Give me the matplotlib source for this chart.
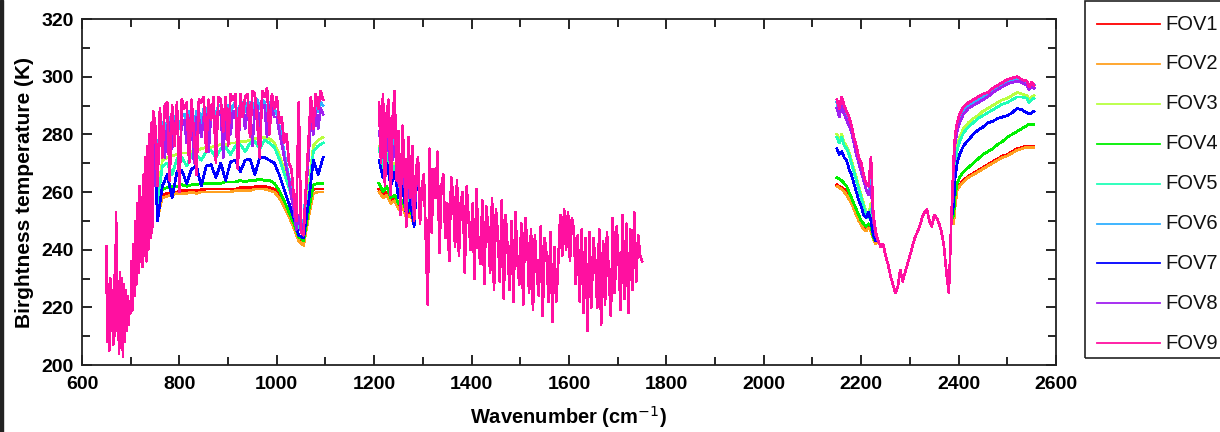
"""
CrIS brightness temperature spectra for the nine FOVs
- values read off the reference picture, band by band
"""

import numpy as np
import matplotlib.pyplot as plt
from matplotlib.patches import Rectangle
from matplotlib.lines import Line2D

plt.rcParams["font.family"] = ["Liberation Sans", "DejaVu Sans"]

W, H = 1220, 432

# -----------------------------
# Series names / colours
# -----------------------------
fov_names = ["FOV1", "FOV2", "FOV3", "FOV4", "FOV5", "FOV6", "FOV7", "FOV8", "FOV9"]
fov_colors = ["#ff0000", "#ffa020", "#b8ff40", "#00f000", "#20ffb8",
              "#30b0ff", "#0000ff", "#a020f0", "#ff10a0"]

# -----------------------------
# Longwave band (cm-1, K)
# -----------------------------
# CO2 band, the same for every FOV
co2_wn = list(range(650, 748, 2))
co2_tb = [241, 208, 228, 205, 230, 212, 226, 207, 231, 210,
          253, 212, 229, 204, 232, 206, 230, 203, 228, 208,
          226, 212, 224, 214, 222,
          218, 236, 219, 242, 224, 250, 228, 256, 232, 262,
          236, 258, 234, 266, 238, 272, 236, 276, 240, 280,
          244, 284, 246, 288]

# window region, fine grid (FOV6, FOV8, FOV9)
win_wn_fine = list(range(750, 1100, 5))
win_fov6 = [262, 272, 283, 284, 279, 285, 286, 281, 286, 287,
            282, 287, 287, 283, 288, 288, 282, 288, 288, 284,
            289, 289, 284, 289, 289, 286, 290, 290, 285, 290,
            290, 287, 290, 291, 286, 291, 291, 288, 291, 291,
            287, 291, 292, 289, 292, 291, 288, 291, 291, 289,
            287, 283, 279, 274, 269, 265, 259, 255, 248, 251,
            246, 249, 262, 275, 287, 284, 290, 288, 291, 290]
win_fov8 = [262, 270, 281, 282, 272, 283, 284, 275, 284, 285,
            271, 285, 285, 277, 285, 286, 270, 286, 286, 279,
            286, 287, 274, 287, 287, 281, 287, 288, 272, 288,
            288, 280, 288, 288, 273, 288, 289, 282, 289, 289,
            276, 289, 290, 283, 290, 290, 279, 290, 289, 286,
            286, 281, 277, 272, 268, 264, 258, 254, 247, 252,
            246, 248, 260, 272, 285, 280, 288, 282, 289, 287]
win_fov9 = [284, 262, 289, 272, 290, 291, 264, 290, 276, 291,
            260, 292, 289, 291, 270, 292, 280, 266, 292, 291,
            293, 274, 292, 285, 293, 270, 293, 292, 281, 293,
            276, 294, 292, 294, 268, 294, 286, 293, 294, 279,
            295, 294, 284, 272, 295, 293, 296, 280, 294, 289,
            293, 284, 286, 277, 280, 270, 268, 258, 250, 291,
            246, 245, 262, 277, 293, 282, 294, 289, 295, 292]

# window region, coarse grid (smoother FOVs)
win_wn_coarse = list(range(755, 1100, 10))
win_fov1 = [252, 259, 259.5, 260, 260, 260.5, 260.5, 260.5, 260.5, 260.8,
            261, 261, 261, 261, 261, 261, 261, 261.5, 261.5, 261.5,
            261.8, 262, 262, 261.5, 261, 259, 256, 252.5, 248.5, 244,
            242, 252, 261, 261, 261]
win_fov2 = [251, 258, 258.5, 259, 259.5, 259.5, 259.5, 260, 259.5, 260,
            260, 260, 260, 260, 260, 260, 260.5, 260.5, 260.5, 260.5,
            261, 261, 261, 260.5, 260, 258, 255, 251.5, 247.5, 243,
            241.5, 251, 259.5, 260, 260]
win_fov3 = [258, 271, 272, 272.5, 273, 273.5, 273.5, 274, 274.5, 275,
            275.5, 275.5, 276, 276.5, 276.5, 277, 277, 277.5, 277.5, 278,
            278.5, 279, 279, 278.5, 277, 273, 268, 263, 257, 249,
            247, 260, 276, 278, 279]
win_fov4 = [253, 261, 261.5, 262, 262, 262.5, 262, 262.5, 262.5, 263,
            263, 263, 263, 263, 263.5, 263.5, 263.5, 264, 263.5, 264,
            264, 264.5, 264, 264, 263, 260.5, 257, 253, 249, 244.5,
            243, 253, 262.5, 263, 263]
win_fov5 = [256, 269, 270, 266, 271.5, 272, 269, 273, 273, 271,
            274, 274.5, 272, 275, 275.5, 273, 276, 276.5, 274, 277,
            277.5, 275, 278, 277, 275.5, 271.5, 266.5, 261.5, 255.5, 248,
            246, 258, 274, 276, 277]
win_fov7 = [250, 262, 266, 258, 267, 267.5, 263, 268, 269, 262,
            269, 269.5, 265, 270, 264, 270.5, 271, 267, 271, 271.5,
            266, 272, 272, 271, 270, 266, 261, 256, 251, 245,
            244, 256, 271, 266, 272]

# -----------------------------
# Midwave (water vapour) band
# -----------------------------
h2o_wn = list(range(1210, 1754, 4))
h2o_tb = [291, 270, 294, 262, 288, 292, 259, 286, 295, 264,
          281, 252, 283, 270, 248, 279, 258, 276, 250, 268,
          272, 249, 262, 266, 244, 221, 275, 246, 268, 258,
          274, 239, 262, 266, 244, 256, 236, 265, 259, 241,
          264, 238, 257, 260, 232, 262, 250, 240, 256, 230,
          261, 242, 235, 257, 228, 255, 248, 232, 258, 226,
          254, 245, 229, 257, 223, 252, 240, 226, 250, 222,
          253, 236, 228, 249, 221, 251, 243, 225, 247, 219,
          245, 232, 224, 248, 217, 244, 238, 222, 246, 215,
          241, 222, 236, 252, 238, 254, 240, 253, 236, 251,
          247, 228, 245, 222, 247, 218, 244, 212, 246, 220,
          244, 236, 220, 247, 214, 243, 221, 246, 230, 217,
          251, 225, 248, 236, 219, 252, 223, 249, 218, 247,
          226, 253, 229, 245, 238, 236]

# start of the band, where the FOVs still differ (FOV1..FOV8)
h2o_head_wn = list(range(1210, 1290, 8))
h2o_head = [
    [261, 259, 260, 257, 258, 255, 256, 252, 253, 250],
    [260, 258, 259, 256, 257, 254, 255, 251, 252, 249],
    [276, 270, 274, 266, 270, 262, 265, 256, 260, 252],
    [263, 260, 262, 258, 259, 256, 257, 253, 254, 250],
    [275, 268, 273, 265, 269, 261, 264, 255, 259, 251],
    [285, 276, 283, 272, 278, 265, 271, 258, 265, 252],
    [271, 265, 270, 262, 267, 258, 262, 252, 257, 248],
    [281, 272, 280, 268, 276, 263, 270, 256, 264, 251],
]

# -----------------------------
# Shortwave band
# -----------------------------
sw_head_wn = list(range(2150, 2235, 5))
sw_head = [
    [262.5, 262, 261.5, 261, 260, 258.5, 257, 255, 253, 251, 249.5, 248, 247, 248, 247, 244, 242.5],
    [262, 261.5, 261, 260, 259, 257.5, 256, 254, 252, 250, 248.5, 247, 246.5, 247.5, 246.5, 243.5, 242],
    [280, 278, 280, 277, 276, 274, 271, 268, 265, 262, 259, 256, 253, 252, 256, 247, 244],
    [265, 264.5, 264, 263, 262, 260, 258, 256, 254, 252, 250, 249, 248, 249, 248, 244, 243],
    [279, 277, 279, 276, 275, 273, 270, 267, 264, 261, 258, 255, 252, 251, 254, 246, 244],
    [291, 288, 291, 289, 287, 284, 281, 278, 274, 271, 268, 264, 261, 259, 264, 250, 245],
    [275, 273, 274, 272, 271, 268, 266, 263, 260, 257, 255, 252, 251, 253, 250, 245, 243],
    [289, 286, 290, 287, 285, 283, 281, 277, 273, 270, 267, 264, 261, 259, 262, 250, 245],
    [292, 289, 293, 290, 288, 286, 283, 279, 276, 272, 270, 266, 263, 262, 272, 252, 246],
]

# N2O / CO2 part, the same for every FOV
sw_mid_wn = list(range(2235, 2390, 5))
sw_mid = [243, 241, 242, 238, 235, 231, 228, 225, 227, 233,
          229, 232, 235, 238, 241, 244, 246, 248, 251, 253,
          254, 250, 248, 252, 251, 249, 246, 241, 232, 225,
          250]

sw_tail_wn = [2390, 2393, 2397, 2402, 2410, 2420, 2430, 2440, 2450, 2460, 2470,
              2480, 2490, 2500, 2510, 2520, 2530, 2540, 2545, 2550, 2555]
sw_tail = [
    [250, 256, 261, 262.5, 264, 265.5, 266.5, 267.5, 268.5, 269.5, 270.5, 271.5, 272.5, 273, 274, 275, 275.5, 276, 276, 276, 276],
    [249, 255, 260.5, 262, 263.5, 265, 266, 267, 268, 269, 270, 271, 272, 272.5, 273.5, 274.5, 275, 275.5, 275.5, 275.5, 275.5],
    [262, 272, 276, 279, 282, 284, 285.5, 286.5, 288, 289, 290, 291, 292, 292.5, 293.5, 294.5, 294, 293.5, 292, 293, 293.5],
    [252, 259, 263, 265, 267, 268.5, 270, 271.5, 273, 274, 275, 276.5, 277.5, 279, 280, 281, 282, 283, 283.5, 283.5, 283.5],
    [261, 270, 274.5, 277.5, 280.5, 282.5, 284, 285.5, 286.5, 287.5, 288.5, 289.5, 290.5, 291, 292, 293, 293, 292.5, 291, 292, 292.5],
    [270, 279, 283, 286, 288.5, 290, 291, 292, 293, 294, 295.5, 296.5, 297.5, 298.5, 299, 299.5, 298.5, 298, 296, 297.5, 297],
    [256, 265, 270, 273, 276, 278, 280, 281.5, 282.5, 284, 284.5, 285.5, 286, 286.5, 287.5, 289, 288.5, 287.5, 287, 287.5, 288],
    [268, 277, 281, 284, 287, 289, 290, 291, 292, 293, 294.5, 295.5, 296.5, 297.5, 298, 298.5, 298, 297, 295.5, 296.5, 296],
    [272, 280, 284, 287, 289.5, 291, 292, 293, 294, 294.5, 296, 297, 298, 299, 299.5, 300, 299, 298.5, 296.5, 298, 297],
]

# -----------------------------
# Assemble each FOV (NaN between bands)
# -----------------------------
win_data = {0: (win_wn_coarse, win_fov1), 1: (win_wn_coarse, win_fov2),
            2: (win_wn_coarse, win_fov3), 3: (win_wn_coarse, win_fov4),
            4: (win_wn_coarse, win_fov5), 5: (win_wn_fine, win_fov6),
            6: (win_wn_coarse, win_fov7), 7: (win_wn_fine, win_fov8),
            8: (win_wn_fine, win_fov9)}


def fov_spectrum(i):
    wn_w, tb_w = win_data[i]
    if i < 8:
        keep = [k for k, w in enumerate(h2o_wn) if w >= 1290]
        mw_wn = h2o_head_wn + [h2o_wn[k] for k in keep]
        mw_tb = h2o_head[i] + [h2o_tb[k] for k in keep]
    else:
        mw_wn, mw_tb = h2o_wn, h2o_tb
    wn = (co2_wn + wn_w + [np.nan] + mw_wn + [np.nan]
          + sw_head_wn + sw_mid_wn + sw_tail_wn)
    tb = (co2_tb + tb_w + [np.nan] + mw_tb + [np.nan]
          + sw_head[i] + sw_mid + sw_tail[i])
    return np.array(wn, dtype=float), np.array(tb, dtype=float)


# -----------------------------
# Plot
# -----------------------------
fig = plt.figure(figsize=(W / 100, H / 100), dpi=100)
ax = fig.add_axes([82 / W, 1 - 365 / H, (1056 - 82) / W, (365 - 19) / H])

for i, name in enumerate(fov_names):
    wn, tb = fov_spectrum(i)
    ax.plot(wn, tb, color=fov_colors[i], lw=1.2, antialiased=False, label=name)

ax.set_xlim(600, 2600)
ax.set_ylim(200, 320)
ax.set_xticks(range(600, 2601, 200))
ax.set_xticks(range(600, 2601, 100), minor=True)
ax.set_yticks(range(200, 321, 20))
ax.set_yticks(range(200, 321, 10), minor=True)
ax.tick_params(which="both", direction="in", top=True, right=True,
               width=1.2, labelsize=14)
ax.tick_params(axis="x", which="major", pad=8)
ax.tick_params(axis="y", which="major", pad=6)
ax.tick_params(which="major", length=7)
ax.tick_params(which="minor", length=6)
for lab in ax.get_xticklabels() + ax.get_yticklabels():
    lab.set_fontweight("bold")
for s in ax.spines.values():
    s.set_linewidth(1.3)
    s.set_color("#222222")

ax.set_xlabel("Wavenumber (cm$^{-1}$)", fontsize=14.5, fontweight="bold", labelpad=8)
ax.set_ylabel("Birghtness temperature (K)", fontsize=15, fontweight="bold", labelpad=5)

# legend box (runs past the right edge, as in the screenshot)
fig.add_artist(Rectangle((1085 / W, 1 - 358 / H), (1260 - 1085) / W, (358 - 1) / H,
                         transform=fig.transFigure, fill=False,
                         edgecolor="#222222", lw=1.2))
for i, name in enumerate(fov_names):
    y = 1 - (24 + 39.9 * i) / H
    fig.add_artist(Line2D([1097 / W, 1160 / W], [y, y], transform=fig.transFigure,
                          color=fov_colors[i], lw=1.3))
    fig.text(1165 / W, y, name, fontsize=14.5, va="center", ha="left", color="#111111")

# dark strip at the left edge of the screenshot
fig.add_artist(Rectangle((0, 0), 3 / W, 1, transform=fig.transFigure,
                         color="#222222", zorder=10))

fig.savefig("out.png", dpi=100)
